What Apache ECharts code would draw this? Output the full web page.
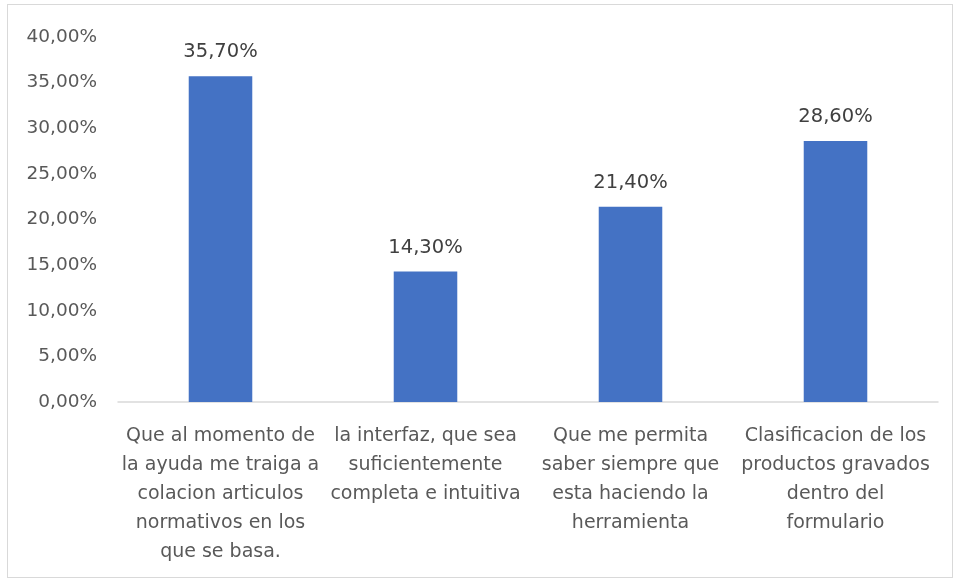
<!DOCTYPE html>
<html>
<head>
<meta charset="utf-8">
<script src="https://cdn.jsdelivr.net/npm/echarts@6/dist/echarts.min.js"></script>
<style>
  html, body { margin: 0; padding: 0; background: #fff; }
  #frame { position: absolute; left: 7px; top: 4px; width: 944px; height: 572px; border: 1px solid #d9d9d9; }
  #chart { position: absolute; left: 0; top: 0; width: 958px; height: 578px; }
</style>
</head>
<body>
<div id="frame"></div>
<div id="chart"></div>
<script>
// datos del grafico
const categories = [
  'Que al momento de\nla ayuda me traiga a\ncolacion articulos\nnormativos en los\nque se basa.',
  'la interfaz, que sea\nsuficientemente\ncompleta e intuitiva',
  'Que me permita\nsaber siempre que\nesta haciendo la\nherramienta',
  'Clasificacion de los\nproductos gravados\ndentro del\nformulario'
]
const values = [35.7, 14.3, 21.4, 28.6]
const yTicks = [0, 5, 10, 15, 20, 25, 30, 35, 40]

const fmt = v => v.toFixed(2).replace('.', ',') + '%'
const font = '"DejaVu Sans", sans-serif'

const chart = echarts.init(document.getElementById('chart'))

const option = {
  animation: false,
  grid: { left: 118, right: 20, top: 37, bottom: 176 },
  xAxis: {
    type: 'category',
    data: categories,
    axisTick: { show: false },
    axisLine: { lineStyle: { color: '#d9d9d9', width: 1.5 } },
    axisLabel: {
      interval: 0,
      color: '#595959',
      fontSize: 19,
      fontFamily: font,
      lineHeight: 29,
      margin: 20
    }
  },
  yAxis: {
    type: 'value',
    min: yTicks[0],
    max: yTicks[yTicks.length - 1],
    interval: 5,
    splitLine: { show: false },
    axisLine: { show: false },
    axisTick: { show: false },
    axisLabel: {
      color: '#595959',
      fontSize: 18.5,
      fontFamily: font,
      margin: 21,
      formatter: fmt
    }
  },
  series: [
    {
      type: 'bar',
      data: values,
      barWidth: '31%',
      itemStyle: { color: '#4472c4' },
      label: {
        show: true,
        position: 'top',
        distance: 14,
        color: '#404040',
        fontSize: 19.5,
        fontFamily: font,
        formatter: p => fmt(p.value)
      }
    }
  ]
}

chart.setOption(option)
</script>
</body>
</html>
